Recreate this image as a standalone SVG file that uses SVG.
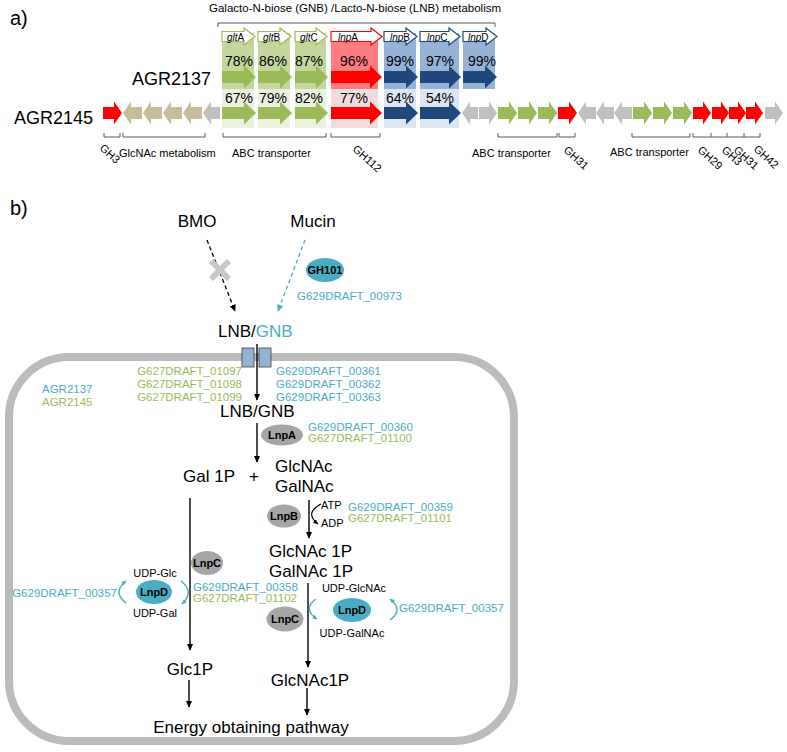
<svg xmlns="http://www.w3.org/2000/svg" width="787" height="752" viewBox="0 0 787 752">
<defs>
<marker id="ah" viewBox="0 0 10 10" refX="9" refY="5" markerWidth="7" markerHeight="7" markerUnits="userSpaceOnUse" orient="auto"><path d="M0,0.5 L10,5 L0,9.5 z" fill="#000"/></marker>
<marker id="ahb" viewBox="0 0 10 10" refX="9" refY="5" markerWidth="7" markerHeight="7" markerUnits="userSpaceOnUse" orient="auto"><path d="M0,0.5 L10,5 L0,9.5 z" fill="#4BACC6"/></marker>
<marker id="ahs" viewBox="0 0 10 10" refX="9" refY="5" markerWidth="5" markerHeight="5" markerUnits="userSpaceOnUse" orient="auto"><path d="M0,0.5 L10,5 L0,9.5 z" fill="#000"/></marker>
<marker id="ahbs" viewBox="0 0 10 10" refX="9" refY="5" markerWidth="5" markerHeight="5" markerUnits="userSpaceOnUse" orient="auto"><path d="M0,0.5 L10,5 L0,9.5 z" fill="#4BACC6"/></marker>
</defs>
<style>
text{font-family:"Liberation Sans",Arial,sans-serif;fill:#000}
.g{fill:#9BBB59}.r{fill:#FF0000}.b{fill:#1F497D}.t{fill:#C4BD97}.n{fill:#BFBFBF}
.s1g{fill:#C3D69B}.s2g{fill:#EBF1DE}.s1r{fill:#FF7C80}.s2r{fill:#F2DCDB}.s1b{fill:#95B3D7}.s2b{fill:#DCE6F2}
.wa{fill:#fff;stroke-width:1.2}
.pct{font-size:14px;text-anchor:middle}
.gl{font-size:10px}
.brk{fill:none;stroke:#595959;stroke-width:1}
.lab{font-size:11px}
.big{font-size:17px}
text.tb{fill:#4BACC6}text.tg{fill:#9BBB59}
.id{font-size:11.5px}
.enz{font-size:11px;font-weight:bold;text-anchor:middle}
.ln{stroke:#000;stroke-width:1.4;fill:none}
.elg{fill:#A6A6A6}.elb{fill:#4BACC6}
</style>

<!-- Panel a -->
<g id="panel-a">
<text x="10" y="25" font-size="20">a)</text>
<text x="209" y="12" font-size="11.5">Galacto-N-biose (GNB) /Lacto-N-biose (LNB) metabolism</text>
<path class="brk" d="M218,27 V23 H495 V27"/>

<g id="shading">
<rect class="s1g" x="222" y="33" width="32" height="56"/>
<rect class="s1g" x="258" y="33" width="32" height="56"/>
<rect class="s1g" x="295" y="33" width="31" height="56"/>
<rect class="s1r" x="331" y="33" width="47" height="56"/>
<rect class="s1b" x="384" y="33" width="32" height="56"/>
<rect class="s1b" x="420" y="33" width="39" height="56"/>
<rect class="s1b" x="463" y="33" width="32" height="56"/>
<rect class="s2g" x="222" y="89" width="32" height="39"/>
<rect class="s2g" x="258" y="89" width="32" height="39"/>
<rect class="s2g" x="295" y="89" width="31" height="39"/>
<rect class="s2r" x="331" y="89" width="47" height="39"/>
<rect class="s2b" x="384" y="89" width="32" height="39"/>
<rect class="s2b" x="420" y="89" width="39" height="39"/>
</g>

<g id="gene-labels">
<path class="wa" stroke="#9BBB59" d="M222,31.5 h22 v-3.5 l11,8.5 l-11,8.5 v-3.5 h-22z"/>
<path class="wa" stroke="#9BBB59" d="M258,31.5 h22 v-3.5 l11,8.5 l-11,8.5 v-3.5 h-22z"/>
<path class="wa" stroke="#9BBB59" d="M295,31.5 h21 v-3.5 l11,8.5 l-11,8.5 v-3.5 h-21z"/>
<path class="wa" stroke="#FF0000" d="M331,31.5 h40 v-3.5 l11,8.5 l-11,8.5 v-3.5 h-40z"/>
<path class="wa" stroke="#1F497D" d="M384,31.5 h22 v-3.5 l11,8.5 l-11,8.5 v-3.5 h-22z"/>
<path class="wa" stroke="#1F497D" d="M420,31.5 h29 v-3.5 l11,8.5 l-11,8.5 v-3.5 h-29z"/>
<path class="wa" stroke="#1F497D" d="M463,31.5 h23 v-3.5 l11,8.5 l-11,8.5 v-3.5 h-23z"/>
<text class="gl" x="227" y="41"><tspan font-style="italic">glt</tspan>A</text>
<text class="gl" x="263" y="41"><tspan font-style="italic">glt</tspan>B</text>
<text class="gl" x="300" y="41"><tspan font-style="italic">glt</tspan>C</text>
<text class="gl" x="338" y="41"><tspan font-style="italic">lnp</tspan>A</text>
<text class="gl" x="390" y="41"><tspan font-style="italic">lnp</tspan>B</text>
<text class="gl" x="427" y="41"><tspan font-style="italic">lnp</tspan>C</text>
<text class="gl" x="468" y="41"><tspan font-style="italic">lnp</tspan>D</text>
</g>

<g id="pct">
<text class="pct" x="239" y="66">78%</text>
<text class="pct" x="273" y="66">86%</text>
<text class="pct" x="309" y="66">87%</text>
<text class="pct" x="354" y="66">96%</text>
<text class="pct" x="400" y="66">99%</text>
<text class="pct" x="440" y="66">97%</text>
<text class="pct" x="482" y="66">99%</text>
<text class="pct" x="239" y="103">67%</text>
<text class="pct" x="273" y="103">79%</text>
<text class="pct" x="309" y="103">82%</text>
<text class="pct" x="354" y="103">77%</text>
<text class="pct" x="400" y="103">64%</text>
<text class="pct" x="440" y="103">54%</text>
</g>

<g id="AGR2137-row">
<text x="132" y="85" font-size="18">AGR2137</text>
<path class="g" d="M222,71 h22 v-5.5 l12,11.5 l-12,11.5 v-5.5 h-22z"/>
<path class="g" d="M258,71 h22 v-5.5 l12,11.5 l-12,11.5 v-5.5 h-22z"/>
<path class="g" d="M295,71 h21 v-5.5 l12,11.5 l-12,11.5 v-5.5 h-21z"/>
<path class="r" d="M331,71 h39 v-5.5 l12,11.5 l-12,11.5 v-5.5 h-39z"/>
<path class="b" d="M384,71 h22 v-5.5 l12,11.5 l-12,11.5 v-5.5 h-22z"/>
<path class="b" d="M420,71 h29 v-5.5 l12,11.5 l-12,11.5 v-5.5 h-29z"/>
<path class="b" d="M463,71 h22 v-5.5 l12,11.5 l-12,11.5 v-5.5 h-22z"/>
</g>

<g id="AGR2145-row">
<text x="14" y="124" font-size="18">AGR2145</text>
<path class="r" d="M103,107 h11 v-5.5 l8,11.5 l-8,11.5 v-5.5 h-11z"/>
<path class="t" d="M142,107 h-11 v-5.5 l-8,11.5 l8,11.5 v-5.5 h11z"/>
<path class="t" d="M162,107 h-11 v-5.5 l-8,11.5 l8,11.5 v-5.5 h11z"/>
<path class="t" d="M182,107 h-11 v-5.5 l-8,11.5 l8,11.5 v-5.5 h11z"/>
<path class="t" d="M202,107 h-11 v-5.5 l-8,11.5 l8,11.5 v-5.5 h11z"/>
<path class="n" d="M220,107 h-9 v-5.5 l-8,11.5 l8,11.5 v-5.5 h9z"/>
<path class="g" d="M222,107 h22 v-5.5 l12,11.5 l-12,11.5 v-5.5 h-22z"/>
<path class="g" d="M258,107 h22 v-5.5 l12,11.5 l-12,11.5 v-5.5 h-22z"/>
<path class="g" d="M295,107 h21 v-5.5 l12,11.5 l-12,11.5 v-5.5 h-21z"/>
<path class="r" d="M331,107 h39 v-5.5 l12,11.5 l-12,11.5 v-5.5 h-39z"/>
<path class="b" d="M384,107 h22 v-5.5 l12,11.5 l-12,11.5 v-5.5 h-22z"/>
<path class="b" d="M420,107 h29 v-5.5 l12,11.5 l-12,11.5 v-5.5 h-29z"/>
<path class="n" d="M478,107 h-8 v-5.5 l-8,11.5 l8,11.5 v-5.5 h8z"/>
<path class="n" d="M479,107 h10 v-5.5 l8,11.5 l-8,11.5 v-5.5 h-10z"/>
<path class="g" d="M498,107 h11 v-5.5 l8,11.5 l-8,11.5 v-5.5 h-11z"/>
<path class="g" d="M518,107 h11 v-5.5 l8,11.5 l-8,11.5 v-5.5 h-11z"/>
<path class="g" d="M538,107 h11 v-5.5 l8,11.5 l-8,11.5 v-5.5 h-11z"/>
<path class="r" d="M558,107 h11 v-5.5 l8,11.5 l-8,11.5 v-5.5 h-11z"/>
<path class="n" d="M596,107 h-10 v-5.5 l-8,11.5 l8,11.5 v-5.5 h10z"/>
<path class="n" d="M614,107 h-10 v-5.5 l-8,11.5 l8,11.5 v-5.5 h10z"/>
<path class="n" d="M632,107 h-10 v-5.5 l-8,11.5 l8,11.5 v-5.5 h10z"/>
<path class="g" d="M633,107 h11 v-5.5 l8,11.5 l-8,11.5 v-5.5 h-11z"/>
<path class="g" d="M653,107 h11 v-5.5 l8,11.5 l-8,11.5 v-5.5 h-11z"/>
<path class="g" d="M673,107 h11 v-5.5 l8,11.5 l-8,11.5 v-5.5 h-11z"/>
<path class="r" d="M693,107 h10 v-5.5 l8,11.5 l-8,11.5 v-5.5 h-10z"/>
<path class="r" d="M712,107 h9 v-5.5 l8,11.5 l-8,11.5 v-5.5 h-9z"/>
<path class="r" d="M729,107 h9 v-5.5 l8,11.5 l-8,11.5 v-5.5 h-9z"/>
<path class="r" d="M746,107 h9 v-5.5 l8,11.5 l-8,11.5 v-5.5 h-9z"/>
<path class="n" d="M765,107 h10 v-5.5 l8,11.5 l-8,11.5 v-5.5 h-10z"/>
</g>

<g id="brackets">
<path class="brk" d="M104,133 V137 H120 V133"/>
<path class="brk" d="M123,133 V137 H205 V133"/>
<path class="brk" d="M223,133 V137 H326 V133"/>
<path class="brk" d="M331,133 V137 H380 V133"/>
<path class="brk" d="M498,133 V137 H557 V133"/>
<path class="brk" d="M559,133 V137 H575 V133"/>
<path class="brk" d="M632,133 V137 H690 V133"/>
<path class="brk" d="M693,133 V137 H760 V133 M711,133 V137 M727,133 V137 M744,133 V137"/>
<text class="lab" transform="translate(99,149) rotate(42)">GH3</text>
<text class="lab" x="119" y="157">GlcNAc metabolism</text>
<text class="lab" x="232" y="157">ABC transporter</text>
<text class="lab" transform="translate(352,150) rotate(42)">GH112</text>
<text class="lab" x="472" y="157">ABC transporter</text>
<text class="lab" transform="translate(563,151) rotate(42)">GH31</text>
<text class="lab" x="610" y="156">ABC transporter</text>
<text class="lab" transform="translate(697,151) rotate(42)">GH29</text>
<text class="lab" transform="translate(721,151) rotate(42)">GH3</text>
<text class="lab" transform="translate(733,151) rotate(42)">GH31</text>
<text class="lab" transform="translate(753,150) rotate(42)">GH42</text>
</g>
</g>

<!-- Panel b -->
<text x="10" y="215" font-size="20">b)</text>

<g id="cell">
<rect x="9" y="357" width="505" height="384" rx="60" ry="60" fill="none" stroke="#BBBBBB" stroke-width="8"/>
</g>

<g id="connectors">
<line x1="207" y1="240" x2="235" y2="311" stroke="#000" stroke-width="1.3" stroke-dasharray="4,3" marker-end="url(#ah)"/>
<line x1="305" y1="240" x2="278" y2="311" stroke="#4BACC6" stroke-width="1.3" stroke-dasharray="4,3" marker-end="url(#ahb)"/>
<line class="ln" x1="257" y1="344" x2="257" y2="400" marker-end="url(#ah)"/>
<line class="ln" x1="257" y1="423" x2="257" y2="462" marker-end="url(#ah)"/>
<line class="ln" x1="309" y1="500" x2="309" y2="538" marker-end="url(#ah)"/>
<line class="ln" x1="190" y1="498" x2="190" y2="650" marker-end="url(#ah)"/>
<line class="ln" x1="308" y1="583" x2="308" y2="667" marker-end="url(#ah)"/>
<line class="ln" x1="189" y1="680" x2="189" y2="707" marker-end="url(#ah)"/>
<line class="ln" x1="307" y1="688" x2="307" y2="715" marker-end="url(#ah)"/>
<path d="M321,504 Q304,513 318,524" fill="none" stroke="#000" stroke-width="1.2" marker-end="url(#ahs)"/>
<path d="M126,603 Q112,592 126,581" fill="none" stroke="#4BACC6" stroke-width="1.5" marker-end="url(#ahbs)"/>
<path d="M181,581 Q195,592 182,604" fill="none" stroke="#4BACC6" stroke-width="1.5" marker-end="url(#ahbs)"/>
<path d="M316,599 Q302,609 317,619" fill="none" stroke="#4BACC6" stroke-width="1.5" marker-end="url(#ahbs)"/>
<path d="M390,620 Q404,610 390,599" fill="none" stroke="#4BACC6" stroke-width="1.5" marker-end="url(#ahbs)"/>
</g>

<g id="blocked-x">
<path d="M211,261 L229,279 M229,261 L211,279" stroke="#C8C8C8" stroke-width="6"/>
</g>

<g id="BMO"><text class="big" x="197" y="227" text-anchor="middle" font-size="16">BMO</text></g>
<g id="Mucin"><text class="big" x="313" y="227" text-anchor="middle" font-size="16">Mucin</text></g>
<g id="GH101">
<ellipse class="elb" cx="325" cy="270" rx="19" ry="12"/>
<text class="enz" x="325" y="274" font-size="10.5">GH101</text>
<text class="id tb" x="297" y="300">G629DRAFT_00973</text>
</g>
<g id="LNB-GNB-out"><text class="big" x="218" y="337">LNB/<tspan fill="#4BACC6">GNB</tspan></text></g>

<g id="transporter">
<rect x="242" y="348" width="12" height="19" fill="#95B3D7" stroke="#404040" stroke-width="0.8"/>
<rect x="259" y="348" width="12" height="19" fill="#95B3D7" stroke="#404040" stroke-width="0.8"/>
<text class="id tg" x="242" y="375" text-anchor="end">G627DRAFT_01097</text>
<text class="id tg" x="242" y="388" text-anchor="end">G627DRAFT_01098</text>
<text class="id tg" x="242" y="401" text-anchor="end">G627DRAFT_01099</text>
<text class="id tb" x="276" y="375">G629DRAFT_00361</text>
<text class="id tb" x="276" y="388">G629DRAFT_00362</text>
<text class="id tb" x="276" y="401">G629DRAFT_00363</text>
</g>

<g id="legend">
<text class="id tb" x="42" y="393">AGR2137</text>
<text class="id tg" x="42" y="406">AGR2145</text>
</g>

<g id="LNB-GNB-in"><text class="big" x="220" y="417">LNB/GNB</text></g>

<g id="LnpA">
<ellipse class="elg" cx="282" cy="435" rx="21" ry="10.5"/>
<text class="enz" x="282" y="439">LnpA</text>
<text class="id tb" x="308" y="431">G629DRAFT_00360</text>
<text class="id tg" x="308" y="442">G627DRAFT_01100</text>
</g>

<g id="Gal1P"><text class="big" x="183" y="482">Gal 1P</text></g>
<g id="plus"><text class="big" x="254" y="482" text-anchor="middle">+</text></g>
<g id="GlcNAc-GalNAc">
<text class="big" x="275" y="472">GlcNAc</text>
<text class="big" x="275" y="492">GalNAc</text>
</g>

<g id="LnpB">
<ellipse class="elg" cx="284" cy="516" rx="17" ry="11.5"/>
<text class="enz" x="284" y="520">LnpB</text>
<text class="lab" x="321" y="509">ATP</text>
<text class="lab" x="321" y="527">ADP</text>
<text class="id tb" x="348" y="511">G629DRAFT_00359</text>
<text class="id tg" x="348" y="522">G627DRAFT_01101</text>
</g>

<g id="GlcNAc1P-GalNAc1P">
<text class="big" x="269" y="557">GlcNAc 1P</text>
<text class="big" x="269" y="577">GalNAc 1P</text>
</g>

<g id="LnpC-left">
<ellipse class="elg" cx="207" cy="563" rx="16" ry="12"/>
<text class="enz" x="207" y="567">LnpC</text>
<text class="id tb" x="193" y="591">G629DRAFT_00358</text>
<text class="id tg" x="193" y="602">G627DRAFT_01102</text>
</g>

<g id="LnpD-left">
<ellipse class="elb" cx="154" cy="592" rx="18" ry="12"/>
<text class="enz" x="154" y="596">LnpD</text>
<text class="lab" x="155" y="577" text-anchor="middle">UDP-Glc</text>
<text class="lab" x="155" y="617" text-anchor="middle">UDP-Gal</text>
<text class="id tb" x="117" y="597" text-anchor="end">G629DRAFT_00357</text>
</g>

<g id="LnpC-right">
<ellipse class="elg" cx="285" cy="619" rx="18.5" ry="12.5"/>
<text class="enz" x="285" y="623">LnpC</text>
</g>

<g id="LnpD-right">
<ellipse class="elb" cx="352" cy="610" rx="19" ry="12"/>
<text class="enz" x="352" y="614">LnpD</text>
<text class="lab" x="354" y="592" text-anchor="middle">UDP-GlcNAc</text>
<text class="lab" x="352" y="637" text-anchor="middle">UDP-GalNAc</text>
<text class="id tb" x="399" y="612">G629DRAFT_00357</text>
</g>

<g id="Glc1P"><text class="big" x="190" y="675" text-anchor="middle">Glc1P</text></g>
<g id="GlcNAc1P"><text class="big" x="310" y="686" text-anchor="middle">GlcNAc1P</text></g>
<g id="energy"><text class="big" x="251" y="733" text-anchor="middle">Energy obtaining pathway</text></g>
</svg>
